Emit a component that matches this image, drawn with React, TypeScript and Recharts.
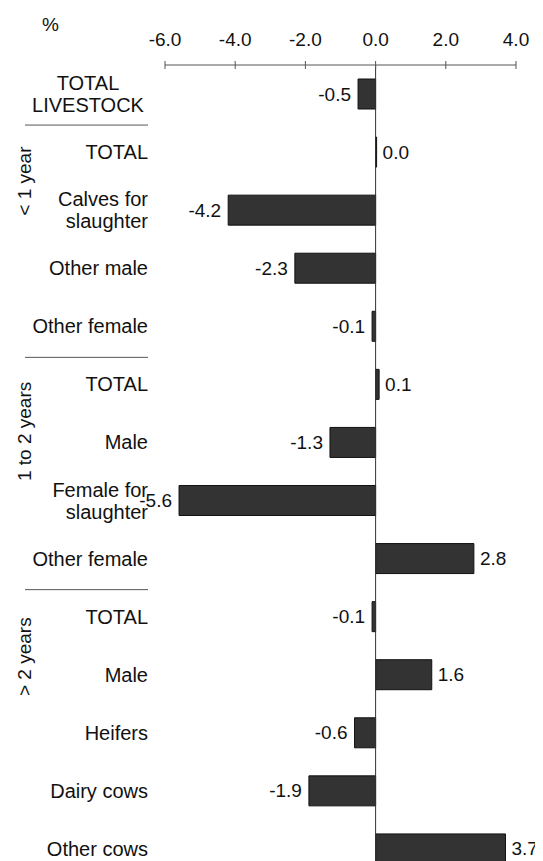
import React from 'react';
import { BarChart, Bar, XAxis, YAxis, ReferenceLine, LabelList } from 'recharts';

// categories (\n = line break) and % change values, top to bottom
const categories = [
  'TOTAL\nLIVESTOCK',
  'TOTAL',
  'Calves for\nslaughter',
  'Other male',
  'Other female',
  'TOTAL',
  'Male',
  'Female for\nslaughter',
  'Other female',
  'TOTAL',
  'Male',
  'Heifers',
  'Dairy cows',
  'Other cows',
];
const values = [-0.5, 0.0, -4.2, -2.3, -0.1, 0.1, -1.3, -5.6, 2.8, -0.1, 1.6, -0.6, -1.9, 3.7];
const xTicks = [-6, -4, -2, 0, 2, 4];

// age groups: label and index of their first row
const groupLabels = ['< 1 year', '1 to 2 years', '> 2 years'];
const groupStarts = [1, 5, 9];
const groupLabelShift = [29, 47, 40];

const W = 535;
const H = 853;
const TOP = 57;
const BOTTOM = -17; // last row runs past the bottom edge, as in the original
const Y_AXIS_W = 157;
const band = (H - TOP - BOTTOM) / categories.length;
const FONT = 'Arial, "Liberation Sans", sans-serif';

const data = categories.map((c, i) => ({ key: `c${i}`, value: values[i] }));

const CategoryTick = (props: any) => {
  const { y, index } = props;
  const lines = categories[index].split('\n');
  const centered = index === 0;
  const lineH = 22;
  const g = groupStarts.indexOf(index);
  return (
    <g>
      {lines.map((ln, k) => (
        <text
          key={k}
          x={centered ? 80 : 140}
          y={y + (k - (lines.length - 1) / 2) * lineH}
          textAnchor={centered ? 'middle' : 'end'}
          dominantBaseline="central"
          fontSize={20}
          fontFamily={FONT}
          fill="#111"
        >
          {ln}
        </text>
      ))}
      {g >= 0 && (
        <>
          <line x1={17} x2={140} y1={y - band / 2 + 2} y2={y - band / 2 + 2} stroke="#555" strokeWidth={1} />
          <text
            x={17}
            y={y + groupLabelShift[g]}
            transform={`rotate(-90, 17, ${y + groupLabelShift[g]})`}
            textAnchor="middle"
            dominantBaseline="central"
            fontSize={19}
            fontFamily={FONT}
            fill="#111"
          >
            {groupLabels[g]}
          </text>
        </>
      )}
    </g>
  );
};

const ValueTick = (props: any) => {
  const { x, y, payload } = props;
  return (
    <g>
      <line x1={x} x2={x} y1={y - 4} y2={y + 4} stroke="#555" />
      <text x={x} y={y - 26} textAnchor="middle" dominantBaseline="central" fontSize={19} fontFamily={FONT} fill="#111">
        {Number(payload.value).toFixed(1)}
      </text>
    </g>
  );
};

const ValueLabel = (props: any) => {
  const { x, y, width, height, value } = props;
  const x1 = Math.min(x, x + width);
  const x2 = Math.max(x, x + width);
  const neg = value < 0;
  return (
    <text
      x={neg ? x1 - 7 : x2 + 6}
      y={y + height / 2}
      textAnchor={neg ? 'end' : 'start'}
      dominantBaseline="central"
      fontSize={19}
      fontFamily={FONT}
      fill="#111"
    >
      {Number(value).toFixed(1)}
    </text>
  );
};

export default function App() {
  return (
    <div style={{ position: 'relative', width: W, height: H }}>
      <div style={{ position: 'absolute', left: 34, top: 6, fontSize: 19, fontFamily: FONT, color: '#111' }}>%</div>
      <BarChart
        width={W}
        height={H}
        data={data}
        layout="vertical"
        margin={{ top: 0, right: 27, bottom: BOTTOM, left: 0 }}
      >
        <XAxis
          type="number"
          orientation="top"
          domain={[-6, 4]}
          ticks={xTicks}
          height={TOP}
          tick={<ValueTick />}
          tickLine={false}
          tickSize={0}
          tickMargin={0}
          axisLine={{ stroke: '#555' }}
          interval={0}
        />
        <YAxis
          type="category"
          dataKey="key"
          width={Y_AXIS_W}
          tick={<CategoryTick />}
          tickLine={false}
          axisLine={false}
          interval={0}
        />
        <ReferenceLine x={0} stroke="#333" strokeWidth={1} />
        <Bar
          dataKey="value"
          barSize={30}
          minPointSize={1}
          fill="#333"
          stroke="#111"
          strokeWidth={1}
          isAnimationActive={false}
        >
          <LabelList dataKey="value" content={<ValueLabel />} />
        </Bar>
      </BarChart>
    </div>
  );
}
